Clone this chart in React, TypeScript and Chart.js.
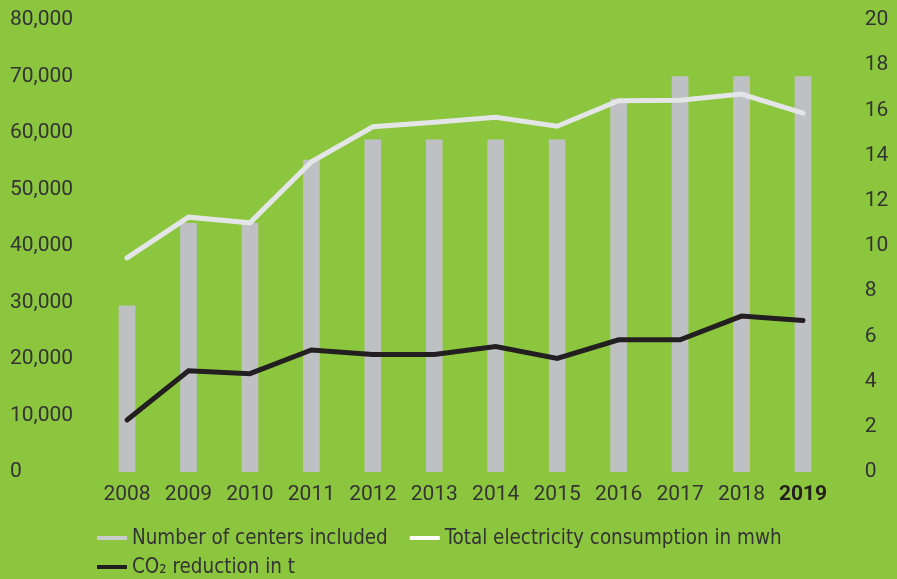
import React, { useEffect, useRef } from 'react';
import { Chart, registerables } from 'chart.js';

Chart.register(...registerables);

const years = ['2008', '2009', '2010', '2011', '2012', '2013', '2014', '2015', '2016', '2017', '2018', '2019'];
const centersIncluded = [7.35, 11, 11, 13.8, 14.7, 14.7, 14.7, 14.7, 16.5, 17.5, 17.5, 17.5];
const electricityMwh = [37900, 45100, 44100, 54900, 61100, 61900, 62800, 61200, 65700, 65800, 66900, 63500];
const co2ReductionT = [9200, 17900, 17400, 21600, 20800, 20800, 22200, 20100, 23400, 23400, 27600, 26800];

const legendLabels = ['Number of centers included', 'Total electricity consumption in mwh', 'CO\u2082 reduction in t'];
const legendColors = ['#c9cbcd', '#ffffff', '#231f20'];
const legendRows = [[0, 1], [2]];

const GREEN = '#8cc63f';
const TEXT = '#333333';
const TICK_FONT = 'Roboto, "DejaVu Sans", sans-serif';

type LegendFont = { family: string; stretch: string; size: number };

function pickLegendFont(): LegendFont {
  const c = document.createElement('canvas').getContext('2d') as any;
  const sample = legendLabels[0];
  const measure = (font: string, stretch: string) => {
    c.font = font;
    if ('fontStretch' in c) c.fontStretch = stretch;
    return c.measureText(sample).width;
  };
  const target = 256;
  const candidates: { family: string; stretch: string }[] = [
    { family: '"Liberation Sans Narrow"', stretch: 'normal' },
    { family: '"DejaVu Sans Condensed"', stretch: 'normal' },
    { family: '"DejaVu Sans"', stretch: 'condensed' },
    { family: '"Noto Sans"', stretch: 'condensed' },
  ];
  for (const cand of candidates) {
    if (cand.stretch === 'normal') {
      const a = measure(`40px ${cand.family}, monospace`, 'normal');
      const b = measure('40px monospace', 'normal');
      const a2 = measure(`40px ${cand.family}, serif`, 'normal');
      const b2 = measure('40px serif', 'normal');
      if (a !== b && a2 !== b2) return { ...cand, size: (40 * target) / a };
    } else {
      const a = measure(`40px ${cand.family}`, 'condensed');
      const b = measure(`40px ${cand.family}`, 'normal');
      if (Math.abs(a - b) > 1) return { ...cand, size: (40 * target) / a };
    }
  }
  const w = measure('40px Roboto', 'normal');
  return { family: 'Roboto', stretch: 'normal', size: (40 * target) / w };
}

const legendPlugin = {
  id: 'bottomLegend',
  afterDraw(chart: any) {
    const ctx = chart.ctx as any;
    const lf: LegendFont = chart.options.plugins.bottomLegend.font;
    const startX = chart.chartArea.left + 0.7;
    const rowY = [chart.chartArea.bottom + 66, chart.chartArea.bottom + 95];
    const swatchW = 30;
    const swatchH = 4;
    const textGap = 5;
    const itemGap = 22;
    ctx.save();
    ctx.font = `normal ${lf.size}px ${lf.family}`;
    if ('fontStretch' in ctx) ctx.fontStretch = lf.stretch;
    ctx.textBaseline = 'middle';
    ctx.textAlign = 'left';
    legendRows.forEach((row, r) => {
      let x = startX;
      const y = rowY[r];
      row.forEach((i) => {
        ctx.fillStyle = legendColors[i];
        ctx.fillRect(x, y - swatchH / 2, swatchW, swatchH);
        x += swatchW + textGap;
        ctx.fillStyle = TEXT;
        ctx.fillText(legendLabels[i], x, y + 1);
        x += ctx.measureText(legendLabels[i]).width + itemGap;
      });
    });
    ctx.restore();
  },
};

const fixVerticalAxis = (width: number) => (s: any) => {
  s.width = width;
  s.paddingTop = 0;
  s.paddingBottom = 0;
};

export default function App() {
  const ref = useRef<HTMLCanvasElement>(null);

  useEffect(() => {
    const canvas = ref.current;
    if (!canvas) return;
    const legendFont = pickLegendFont();
    const chart = new Chart(canvas, {
      type: 'bar',
      data: {
        labels: years,
        datasets: [
          {
            type: 'bar',
            label: legendLabels[0],
            data: centersIncluded,
            yAxisID: 'y1',
            backgroundColor: '#bfc0c4',
            barThickness: 16,
            order: 3,
          } as any,
          {
            type: 'line',
            label: legendLabels[1],
            data: electricityMwh,
            yAxisID: 'y',
            borderColor: '#e3e5e7',
            backgroundColor: '#e3e5e7',
            borderWidth: 5,
            pointRadius: 0,
            tension: 0,
            borderCapStyle: 'round',
            order: 2,
          } as any,
          {
            type: 'line',
            label: legendLabels[2],
            data: co2ReductionT,
            yAxisID: 'y',
            borderColor: '#231f20',
            backgroundColor: '#231f20',
            borderWidth: 5,
            pointRadius: 0,
            tension: 0,
            borderCapStyle: 'round',
            order: 1,
          } as any,
        ],
      },
      options: {
        responsive: false,
        animation: false,
        layout: { padding: { top: 20, left: 10, right: 0, bottom: 58 } },
        scales: {
          x: {
            grid: { display: false, drawTicks: false },
            border: { display: false },
            ticks: {
              padding: 10,
              color: (ctx: any) => (ctx.index === 11 ? '#231f20' : TEXT),
              font: (ctx: any) => ({ family: TICK_FONT, size: 21, weight: ctx.index === 11 ? 'bold' : 'normal' }),
            },
            afterFit: (s: any) => {
              s.height = 49;
            },
          },
          y: {
            position: 'left',
            min: 0,
            max: 80000,
            grid: { display: false, drawTicks: false },
            border: { display: false },
            ticks: {
              stepSize: 10000,
              crossAlign: 'far',
              color: TEXT,
              font: { family: TICK_FONT, size: 21 },
              callback: (v: any) => Number(v).toLocaleString('en-US'),
            },
            afterFit: fixVerticalAxis(86.3),
          },
          y1: {
            position: 'right',
            min: 0,
            max: 20,
            grid: { display: false, drawTicks: false },
            border: { display: false },
            ticks: {
              stepSize: 2,
              padding: 31,
              color: TEXT,
              font: { family: TICK_FONT, size: 21 },
            },
            afterFit: fixVerticalAxis(63.3),
          },
        },
        plugins: {
          tooltip: { enabled: false },
          legend: { display: false },
          bottomLegend: { font: legendFont },
        },
      } as any,
      plugins: [legendPlugin as any],
    });
    return () => chart.destroy();
  }, []);

  return (
    <div style={{ position: 'fixed', left: 0, top: 0, width: 897, height: 579, background: GREEN }}>
      <canvas ref={ref} width={897} height={579} style={{ display: 'block' }} />
    </div>
  );
}
